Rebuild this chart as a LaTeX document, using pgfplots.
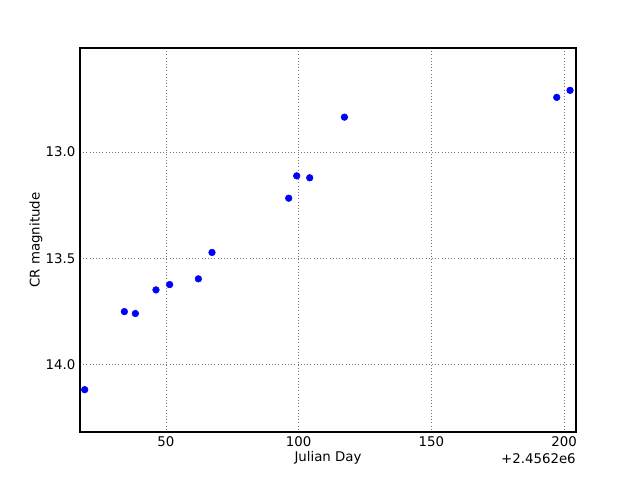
\documentclass[border=0pt]{standalone}
\usepackage{pgfplots}
\pgfplotsset{compat=1.18}
\usepackage{fontspec}
\setmainfont{DejaVu Sans}
\begin{document}
\fontsize{10pt}{12pt}\selectfont
\begin{tikzpicture}
\begin{axis}[
  at={(0,0)}, anchor=south west,
  scale only axis,
  width=372pt, height=288pt,
  xmin=17.6, xmax=204.5,
  ymin=12.512, ymax=14.317,
  y dir=reverse,
  xtick={50,100,150,200},
  ytick={13.0,13.5,14.0},
  yticklabel style={/pgf/number format/fixed, /pgf/number format/fixed zerofill, /pgf/number format/precision=1},
  /pgf/number format/assume math mode=true,
  grid=major,
  major grid style={black!55, dotted, line width=0.45pt},
  tick style={draw=none},
  axis line style={line width=0.8pt},
  tick label style={font=\fontsize{10pt}{12pt}\selectfont},
  label style={font=\fontsize{10pt}{12pt}\selectfont},
  xlabel={Julian Day},
  ylabel={CR magnitude},
  xlabel style={yshift=3.5pt},
  ylabel style={yshift=-4.5pt},
  clip=false,
]
\addplot[only marks, mark=*, mark size=2.5pt, color=blue, mark options={draw=blue, fill=blue}] coordinates {
(19.36,14.118)
(34.32,13.751)
(38.47,13.760)
(46.23,13.649)
(51.39,13.624)
(62.21,13.597)
(67.34,13.473)
(96.24,13.218)
(99.26,13.113)
(104.16,13.122)
(117.24,12.837)
(197.25,12.744)
(202.26,12.711)
};
\node[anchor=north east, inner sep=0pt] at ([yshift=-16pt]rel axis cs:1,0) {+2.4562e6};
\end{axis}
\path[use as bounding box] (-60pt,-36pt) rectangle (420pt,324pt);
\end{tikzpicture}
\end{document}
